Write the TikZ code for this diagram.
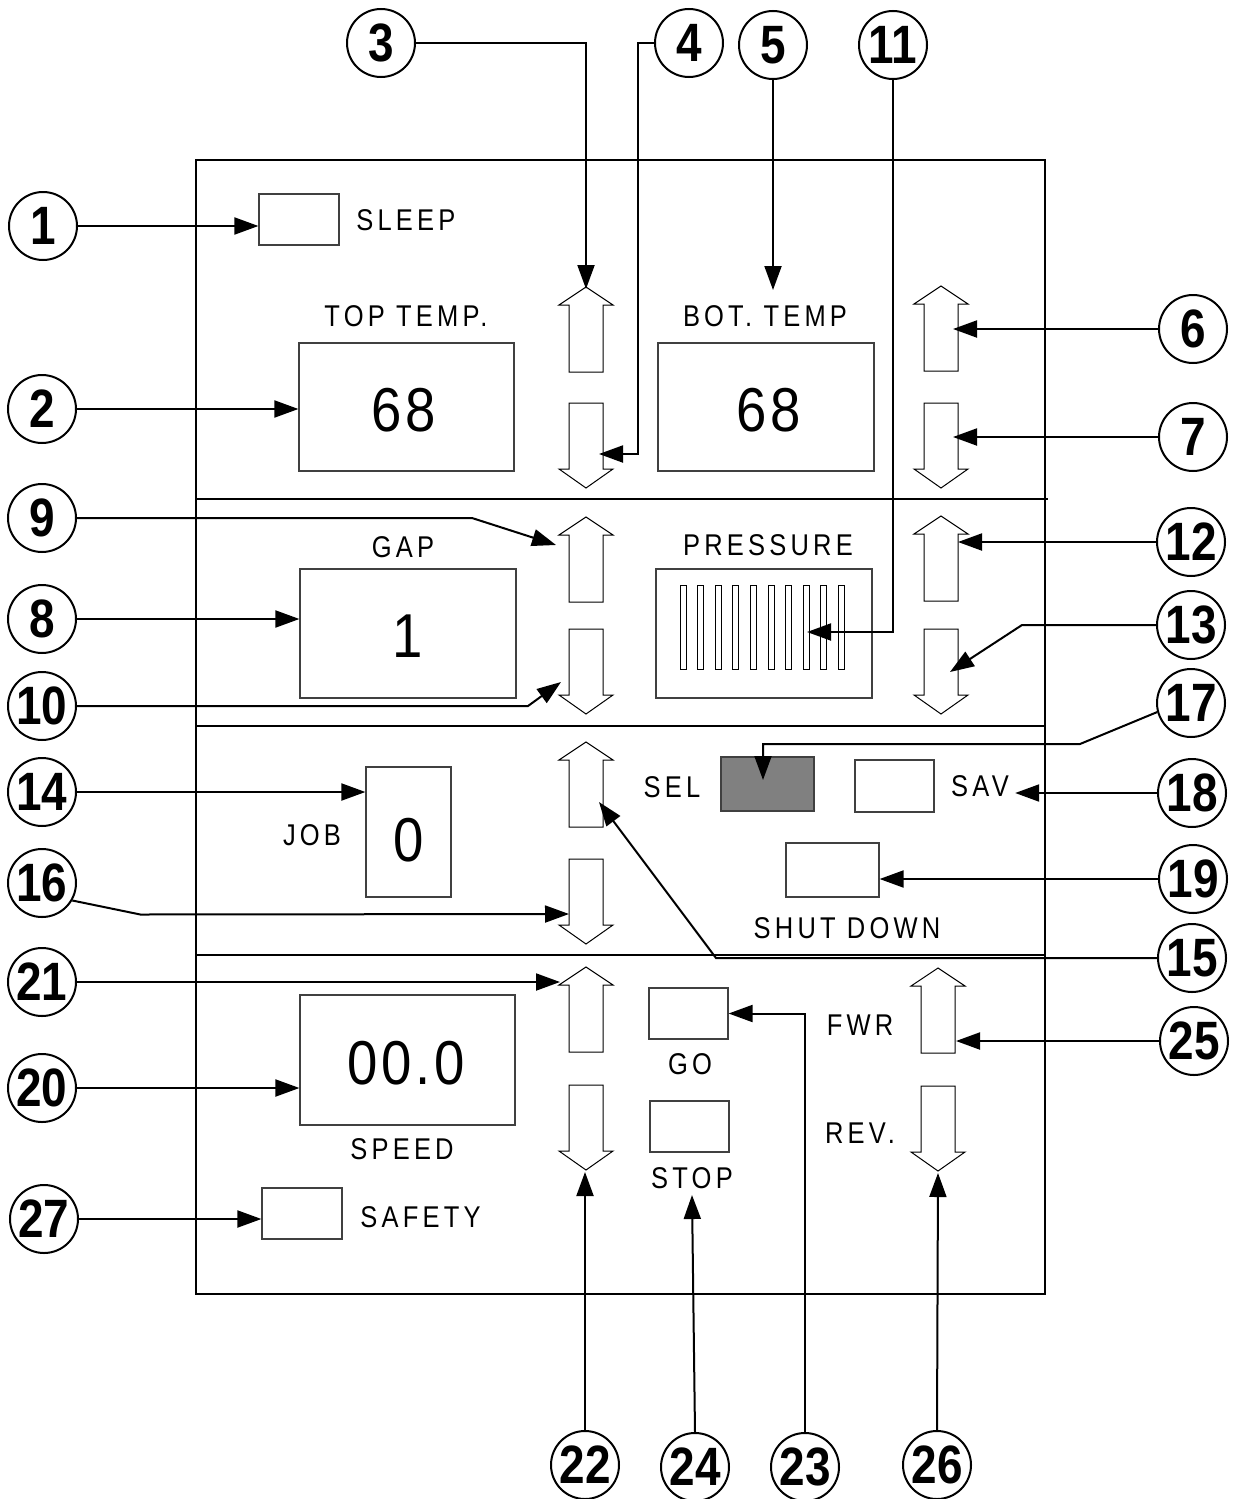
\documentclass[tikz,border=0pt]{standalone}
\usepackage{fontspec}
\setmainfont{Liberation Sans}
\newfontfamily\lblfont[FakeStretch=0.85,LetterSpace=14]{Liberation Sans}
\newfontfamily\digfont[FakeStretch=0.88,LetterSpace=6]{Liberation Sans}
\newfontfamily\numfont[FakeStretch=0.85]{Liberation Sans}
\usetikzlibrary{arrows.meta, positioning, calc}

\begin{document}
\begin{tikzpicture}[x=0.5pt, y=-0.5pt,
  callout/.style={circle, draw, line width=1pt, minimum size=34pt, inner sep=0pt,
                  font=\numfont\bfseries\fontsize{27}{27}\selectfont},
  lead/.style={line width=1pt, -{Triangle[length=12pt, width=8.5pt]}},
  panelbox/.style={draw=black!75, line width=0.6pt, inner sep=0pt},
  lbl/.style={font=\lblfont\fontsize{15}{18}\selectfont, inner sep=0pt},
  readout/.style={font=\digfont\fontsize{31}{36}\selectfont},
  uparr/.pic={\draw[line width=0.5pt] (0,0) -- (27,18) -- (17,18) -- (17,85)
              -- (-17,85) -- (-17,18) -- (-27,18) -- cycle;},
  dnarr/.pic={\draw[line width=0.5pt] (0,0) -- (27,-19) -- (17,-19) -- (17,-85)
              -- (-17,-85) -- (-17,-19) -- (-27,-19) -- cycle;}]
  \useasboundingbox (0,0) rectangle (1236,1499);

  % panel frame and separators
  \draw[line width=1pt] (196,160) rectangle (1045,1294);
  \draw[line width=1.2pt] (196,499) -- (1048,499);
  \draw[line width=0.8pt] (196,726) -- (1045,726);
  \draw[line width=1.2pt] (196,955) -- (1045,955);

  % boxes
  \node[panelbox, minimum width=40pt, minimum height=25.5pt] (sleep) at (299,219.5) {};
  \node[panelbox, minimum width=107.5pt, minimum height=64pt] (toptemp) at (406.5,407) {};
  \node[panelbox, minimum width=108pt, minimum height=64pt] (bottemp) at (766,407) {};
  \node[panelbox, minimum width=108pt, minimum height=64.5pt] (gap) at (408,633.5) {};
  \node[panelbox, minimum width=108pt, minimum height=64.5pt] (pres) at (764,633.5) {};
  \node[panelbox, minimum width=42.5pt, minimum height=65pt] (job) at (408.5,832) {};
  \node[panelbox, fill=black!50, minimum width=46.5pt, minimum height=27pt] (sel) at (767.5,784) {};
  \node[panelbox, minimum width=39.5pt, minimum height=26pt] (sav) at (894.5,786) {};
  \node[panelbox, minimum width=46.5pt, minimum height=27pt] (shut) at (832.5,870) {};
  \node[panelbox, minimum width=107.5pt, minimum height=65pt] (speed) at (407.5,1060) {};
  \node[panelbox, minimum width=39.5pt, minimum height=25.5pt] (go) at (688.5,1013.5) {};
  \node[panelbox, minimum width=39.5pt, minimum height=25.5pt] (stop) at (689.5,1126.5) {};
  \node[panelbox, minimum width=40pt, minimum height=25.5pt] (safety) at (302,1213.5) {};

  % readouts
  \node[readout] (topval) at (404,410) {68};
  \node[readout] (botval) at (769,410) {68};
  \node[readout] (gapval) at (408,636) {1};
  \node[readout] (jobval) at (409,840) {0};
  \node[readout] (speedval) at (406,1063) {00.0};

  % pressure bar graph
  \foreach \i in {0,...,9}
    \draw[line width=0.5pt] ({680+17.6*\i},585) rectangle ++(6,84);

  % labels
  \node[lbl, anchor=west] (sleeplbl) at (356,220) {SLEEP};
  \node[lbl] (toplbl) at (406,316) {TOP TEMP.};
  \node[lbl] (botlbl) at (765,316) {BOT. TEMP};
  \node[lbl] (gaplbl) at (403,547) {GAP};
  \node[lbl] (preslbl) at (768,545) {PRESSURE};
  \node[lbl] (joblbl) at (312,835) {JOB};
  \node[lbl] (sellbl) at (672,787) {SEL};
  \node[lbl, inner sep=3pt] (savlbl) at (980,786) {SAV};
  \node[lbl] (shutlbl) at (847,928) {SHUT DOWN};
  \node[lbl] (speedlbl) at (402,1149) {SPEED};
  \node[lbl] (golbl) at (690,1064) {GO};
  \node[lbl, inner sep=3pt] (stoplbl) at (692,1178) {STOP};
  \node[lbl] (fwrlbl) at (860,1025) {FWR};
  \node[lbl] (revlbl) at (860,1133) {REV.};
  \node[lbl, anchor=west] (safetylbl) at (360,1217) {SAFETY};

  % up / down keys
  \foreach \y in {287,517,742,967}
    \pic at (586,\y) {uparr};
  \foreach \y in {488,714,944,1170}
    \pic at (586,\y) {dnarr};
  \pic at (941,286) {uparr};
  \pic at (941,488) {dnarr};
  \pic at (941,516) {uparr};
  \pic at (941,714) {dnarr};
  \pic at (938,968) {uparr};
  \pic at (938,1171) {dnarr};

  % callouts
  \node[callout] (c1) at (43,226) {1};
  \node[callout] (c2) at (42,409) {2};
  \node[callout] (c3) at (381,43) {3};
  \node[callout] (c4) at (689,43) {4};
  \node[callout] (c5) at (773,45) {5};
  \node[callout] (c11) at (893,45) {11};
  \node[callout] (c6) at (1193,329) {6};
  \node[callout] (c7) at (1193,437) {7};
  \node[callout] (c9) at (42,518) {9};
  \node[callout] (c8) at (42,619) {8};
  \node[callout] (c10) at (42,706) {10};
  \node[callout] (c12) at (1191,542) {12};
  \node[callout] (c13) at (1191,625) {13};
  \node[callout] (c17) at (1191,703) {17};
  \node[callout] (c14) at (42,792) {14};
  \node[callout] (c18) at (1192,793) {18};
  \node[callout] (c16) at (42,883) {16};
  \node[callout] (c19) at (1193,879) {19};
  \node[callout] (c15) at (1192,958) {15};
  \node[callout] (c21) at (42,982) {21};
  \node[callout] (c25) at (1194,1041) {25};
  \node[callout] (c20) at (42,1088) {20};
  \node[callout] (c27) at (44,1219) {27};
  \node[callout] (c22) at (585,1465) {22};
  \node[callout] (c24) at (695,1467) {24};
  \node[callout] (c23) at (805,1467) {23};
  \node[callout] (c26) at (937,1465) {26};

  % leader end points on the keys
  \coordinate (t3) at (586,289);
  \coordinate (t4) at (599,454);
  \coordinate (t5) at (773,290);
  \coordinate (t6) at (953,329);
  \coordinate (t7) at (953,437);
  \coordinate (t9) at (556,545);
  \coordinate (t10) at (561,682);
  \coordinate (t11) at (807,632);
  \coordinate (t12) at (958,542);
  \coordinate (t13) at (950,672);
  \coordinate (t15) at (599,802);
  \coordinate (t16) at (569,914);
  \coordinate (t17) at (763,780);
  \coordinate (t21) at (560,982);
  \coordinate (t22) at (585,1172);
  \coordinate (t25) at (956,1041);
  \coordinate (t26) at (938,1173);

  % leaders
  \draw[lead] (c1.east) -- (c1 -| sleep.west);
  \draw[lead] (c2.east) -- (c2 -| toptemp.west);
  \draw[lead] (c3.east) -| (t3);
  \draw[lead] (c4.west) -- ++(-16,0) |- (t4);
  \draw[lead] (c5.south) -- (t5);
  \draw[lead] (c11.south) |- (t11);
  \draw[lead] (c6.west) -- (t6);
  \draw[lead] (c7.west) -- (t7);
  \draw[lead] (c9.east) -- ++(395,0) -- (t9);
  \draw[lead] (c8.east) -- (c8 -| gap.west);
  \draw[lead] (c10.east) -- ++(451,0) -- (t10);
  \draw[lead] (c12.west) -- (t12);
  \draw[lead] (c13.west) -- ++(-134,0) -- (t13);
  \draw[lead] (c17.195) -- (1080,744) -| (t17);
  \draw[lead] (c14.east) -- (c14 -| job.west);
  \draw[lead] (c18.west) -- (c18 -| savlbl.east);
  \draw[lead] (c16.330) -- ++(68,14) -- (t16);
  \draw[lead] (c19.west) -- (c19 -| shut.east);
  \draw[lead] (c15.west) -- ++(-441,0) -- (t15);
  \draw[lead] (c21.east) -- (t21);
  \draw[lead] (c20.east) -- (c20 -| speed.west);
  \draw[lead] (c25.west) -- (t25);
  \draw[lead] (c27.east) -- (c27 -| safety.west);
  \draw[lead] (c22.north) -- (t22);
  \draw[lead] (c24.north) -- (stoplbl.south);
  \draw[lead] (c23.north) |- (go.east);
  \draw[lead] (c26.north) -- (t26);
\end{tikzpicture}
\end{document}
